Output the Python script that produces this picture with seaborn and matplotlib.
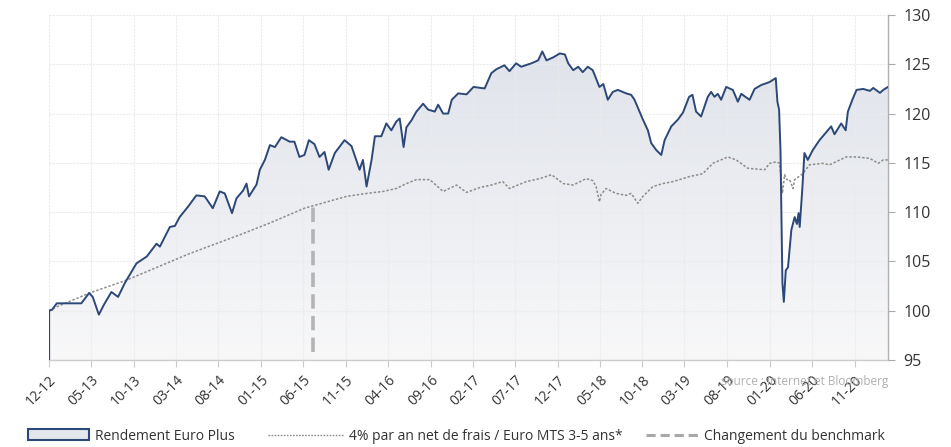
import numpy as np
import pandas as pd
import matplotlib
matplotlib.use("Agg")
import matplotlib.pyplot as plt
import matplotlib.dates as mdates
from matplotlib.colors import LinearSegmentedColormap
from matplotlib.patches import Patch
from matplotlib.lines import Line2D
import seaborn as sns

# ---------------- data ----------------
euro_dates = [
    "2012-12-01", "2012-12-12", "2012-12-29", "2013-03-27", "2013-04-24", "2013-05-07",
    "2013-05-29", "2013-06-16", "2013-07-13", "2013-08-06", "2013-08-30", "2013-10-11",
    "2013-11-17", "2013-12-22", "2014-01-03", "2014-02-08", "2014-02-26", "2014-03-15",
    "2014-04-14", "2014-05-14", "2014-06-13", "2014-07-12", "2014-08-06", "2014-08-24",
    "2014-09-19", "2014-10-05", "2014-10-29", "2014-11-10", "2014-11-19", "2014-12-16",
    "2014-12-28", "2015-01-15", "2015-02-02", "2015-02-20", "2015-03-15", "2015-04-14",
    "2015-05-01", "2015-05-19", "2015-06-06", "2015-06-22", "2015-07-12", "2015-07-30",
    "2015-08-17", "2015-09-01", "2015-09-23", "2015-10-28", "2015-11-22", "2015-12-21",
    "2016-01-02", "2016-01-15", "2016-02-02", "2016-02-14", "2016-03-08", "2016-03-26",
    "2016-04-13", "2016-05-01", "2016-05-13", "2016-05-19", "2016-05-27", "2016-06-06",
    "2016-06-24", "2016-07-12", "2016-08-05", "2016-08-23", "2016-09-16", "2016-09-28",
    "2016-10-16", "2016-11-03", "2016-11-16", "2016-12-09", "2017-01-08", "2017-02-02",
    "2017-03-14", "2017-04-07", "2017-04-25", "2017-05-24", "2017-06-11", "2017-07-05",
    "2017-07-23", "2017-08-29", "2017-09-22", "2017-10-07", "2017-10-22", "2017-11-15",
    "2017-12-09", "2017-12-27", "2018-01-08", "2018-01-26", "2018-02-13", "2018-03-01",
    "2018-03-19", "2018-04-06", "2018-04-30", "2018-05-14", "2018-05-30", "2018-06-17",
    "2018-07-05", "2018-08-04", "2018-08-22", "2018-09-03", "2018-09-21", "2018-10-03",
    "2018-10-21", "2018-11-02", "2018-11-20", "2018-12-08", "2018-12-20", "2019-01-13",
    "2019-02-06", "2019-02-24", "2019-03-18", "2019-03-30", "2019-04-12", "2019-04-30",
    "2019-05-24", "2019-06-05", "2019-06-17", "2019-06-29", "2019-07-11", "2019-07-29",
    "2019-08-22", "2019-09-09", "2019-09-21", "2019-10-21", "2019-11-08", "2019-12-02",
    "2020-01-01", "2020-01-23", "2020-01-29", "2020-02-04", "2020-02-09", "2020-02-16",
    "2020-02-21", "2020-02-28", "2020-03-07", "2020-03-19", "2020-03-31", "2020-04-08",
    "2020-04-14", "2020-04-18", "2020-04-27", "2020-05-05", "2020-05-17", "2020-06-04",
    "2020-06-28", "2020-07-22", "2020-08-09", "2020-08-21", "2020-09-14", "2020-09-30",
    "2020-10-08", "2020-10-24", "2020-11-08", "2020-12-02", "2020-12-26", "2021-01-07",
    "2021-01-31", "2021-02-12", "2021-03-01",
]
euro_values = [
    100.0, 100.1, 100.75, 100.75, 101.8, 101.4,
    99.6, 100.6, 101.9, 101.4, 102.8, 104.8,
    105.5, 106.8, 106.5, 108.5, 108.6, 109.5,
    110.55, 111.7, 111.6, 110.4, 112.1, 111.9,
    109.9, 111.4, 112.2, 112.9, 111.6, 112.8,
    114.3, 115.3, 116.8, 116.6, 117.6, 117.15,
    117.15, 115.6, 115.8, 117.3, 116.9, 115.6,
    116.1, 114.3, 116.0, 117.3, 116.7, 114.3,
    115.3, 112.6, 115.3, 117.7, 117.7, 119.0,
    118.3, 119.2, 119.5, 118.3, 116.6, 118.6,
    119.3, 120.2, 121.0, 120.4, 120.2, 120.9,
    120.0, 120.0, 121.4, 122.05, 121.95, 122.7,
    122.55, 124.1, 124.5, 124.9, 124.3, 125.1,
    124.75, 125.1, 125.4, 126.3, 125.4, 125.7,
    126.1, 126.0, 125.1, 124.4, 124.75, 124.2,
    124.75, 124.4, 122.7, 123.0, 121.4, 122.2,
    122.4, 122.05, 121.9, 121.4, 120.2, 119.4,
    118.3, 117.0, 116.3, 115.8, 117.3, 118.7,
    119.4, 120.1, 121.7, 121.9, 120.2, 119.7,
    121.7, 122.2, 121.7, 122.0, 121.4, 122.7,
    122.4, 121.2, 122.0, 121.4, 122.5, 122.9,
    123.2, 123.6, 121.2, 120.4, 116.3, 102.8,
    100.9, 104.1, 104.4, 108.2, 109.5, 108.8,
    109.9, 108.5, 112.2, 116.0, 115.3, 116.3,
    117.3, 118.1, 118.7, 117.9, 119.0, 118.3,
    120.2, 121.4, 122.4, 122.5, 122.3, 122.6,
    122.1, 122.4, 122.7,
]

bench_dates = [
    "2012-12-01", "2012-12-29", "2013-04-26", "2013-09-05", "2014-04-20", "2014-10-17",
    "2015-02-02", "2015-06-06", "2015-11-04", "2016-01-15", "2016-03-14", "2016-05-01",
    "2016-06-06", "2016-07-12", "2016-08-29", "2016-10-16", "2016-12-03", "2017-01-08",
    "2017-02-25", "2017-04-07", "2017-05-18", "2017-06-11", "2017-08-11", "2017-09-28",
    "2017-11-09", "2017-12-21", "2018-01-26", "2018-03-13", "2018-04-06", "2018-04-18",
    "2018-04-30", "2018-05-06", "2018-05-24", "2018-06-29", "2018-08-04", "2018-08-22",
    "2018-09-15", "2018-10-03", "2018-11-08", "2018-12-14", "2019-01-19", "2019-02-24",
    "2019-03-18", "2019-05-06", "2019-06-11", "2019-08-04", "2019-09-03", "2019-10-15",
    "2019-12-14", "2020-01-01", "2020-01-25", "2020-02-06", "2020-02-16", "2020-02-24",
    "2020-03-03", "2020-03-13", "2020-03-25", "2020-03-31", "2020-04-29", "2020-05-23",
    "2020-07-10", "2020-08-03", "2020-10-02", "2020-11-08", "2020-12-26", "2021-01-25",
    "2021-02-12", "2021-03-01",
]
bench_values = [
    100.0, 100.4, 101.8, 103.1, 105.8, 107.7,
    108.9, 110.4, 111.6, 111.9, 112.1, 112.4,
    112.9, 113.3, 113.3, 112.1, 112.75, 112.0,
    112.5, 112.75, 113.1, 112.4, 113.1, 113.4,
    113.8, 112.9, 112.75, 113.4, 113.2, 112.6,
    111.05, 111.8, 112.4, 111.9, 111.7, 111.9,
    110.9, 111.6, 112.6, 112.9, 113.1, 113.4,
    113.6, 113.9, 114.95, 115.6, 115.3, 114.45,
    114.3, 114.95, 115.1, 114.95, 111.9, 113.8,
    113.3, 113.3, 112.4, 113.3, 113.9, 114.8,
    114.95, 114.8, 115.6, 115.6, 115.45, 114.95,
    115.3, 115.3,
]

change_date = "2015-07-05"
change_range = [95.8, 110.6]

tick_dates = pd.date_range("2012-12-01", "2020-11-01", freq="5MS")
tick_labels = [d.strftime("%m-%y") for d in tick_dates]
y_ticks = [95, 100, 105, 110, 115, 120, 125, 130]

series_names = ["Rendement Euro Plus",
                "4% par an net de frais / Euro MTS 3-5 ans*",
                "Changement du benchmark"]
source_text = "source : internet et Bloomberg"

# ---------------- style ----------------
sns.set_theme(style="white")
plt.rcParams["font.family"] = ["Open Sans", "DejaVu Sans"]

NAVY = "#2c4877"
GREY_DOT = "#8c8c8c"
GREY_DASH = "#b4b4b4"

df_e = pd.DataFrame({"date": pd.to_datetime(euro_dates), "value": euro_values})
df_b = pd.DataFrame({"date": pd.to_datetime(bench_dates), "value": bench_values})

fig = plt.figure(figsize=(9.51, 4.47), dpi=100)
ax = fig.add_axes([49 / 951, 1 - 360 / 447, (888 - 49) / 951, (360 - 15) / 447])

ymin, ymax = 95, 130
xmin = mdates.date2num(pd.Timestamp("2012-12-01"))
xmax = mdates.date2num(pd.Timestamp("2021-03-01"))

# gradient fill under Euro Plus
xnum = mdates.date2num(df_e["date"])
poly = ax.fill_between(xnum, df_e["value"], ymin, facecolor="none", edgecolor="none")
cmap = LinearSegmentedColormap.from_list("g", ["#f8f8f9", "#dde1e9"])
grad = np.linspace(0, 1, 256).reshape(-1, 1)
im = ax.imshow(grad, extent=[xmin, xmax, ymin, ymax], origin="lower",
               aspect="auto", cmap=cmap, zorder=0.5, interpolation="bicubic")
im.set_clip_path(poly.get_paths()[0], transform=ax.transData)

# lines
sns.lineplot(data=df_b, x="date", y="value", ax=ax, color=GREY_DOT, lw=1.1,
             linestyle=(0, (1.6, 1.2)), zorder=3)
sns.lineplot(data=df_e, x="date", y="value", ax=ax, color=NAVY, lw=1.4, zorder=4)
ax.vlines(df_e["date"].iloc[0], ymin, df_e["value"].iloc[0], color=NAVY, lw=1.6, zorder=4)
ax.vlines(pd.Timestamp(change_date), change_range[0], change_range[1], color=GREY_DASH,
          lw=2.6, linestyles=(0, (4, 2)), zorder=3)

# axes
ax.set_xlim(xmin, xmax)
ax.set_ylim(ymin, ymax)
ax.set_xlabel("")
ax.set_ylabel("")
ax.set_xticks(mdates.date2num(tick_dates))
ax.set_xticklabels(tick_labels, rotation=45, ha="right", va="top",
                   rotation_mode="anchor", fontsize=10, color="#333333")
ax.set_yticks(y_ticks)
ax.set_yticklabels([str(v) for v in y_ticks], fontsize=11.5, color="#333333")
ax.yaxis.tick_right()
ax.tick_params(axis="y", which="both", direction="out", length=5, width=0.8,
               color="#aaaaaa", pad=6, left=False, right=True)
ax.tick_params(axis="x", which="both", direction="out", length=5, width=0.8,
               color="#cccccc", pad=4, bottom=True)

for side in ["left", "top"]:
    ax.spines[side].set_visible(False)
ax.spines["right"].set_color("#b0b0b0")
ax.spines["right"].set_linewidth(1.0)
ax.spines["bottom"].set_color("#cccccc")
ax.spines["bottom"].set_linewidth(1.0)

ax.set_axisbelow(False)
ax.grid(True, which="major", axis="both", color="#ebebeb", lw=0.8, linestyle=(0, (2, 1)))
for gl in ax.get_xgridlines() + ax.get_ygridlines():
    gl.set_zorder(1)

# legend (three separate pieces)
leg_kw = dict(frameon=False, fontsize=10, labelcolor="#333333", handletextpad=0.4,
              loc="center left", borderaxespad=0, borderpad=0)
h1 = Patch(facecolor="#e4e7ec", edgecolor=NAVY, lw=1.5)
l1 = fig.legend([h1], [series_names[0]], bbox_to_anchor=(28 / 951, 11 / 447),
                handlelength=4.4, handleheight=0.8, **leg_kw)
h2 = Line2D([], [], color=GREY_DOT, lw=1.0, linestyle=(0, (1.2, 1.0)))
l2 = fig.legend([h2], [series_names[1]], bbox_to_anchor=(268 / 951, 11 / 447),
                handlelength=5.4, **leg_kw)
h3 = Line2D([], [], color="#a8a8a8", lw=2.2, linestyle=(0, (3, 1.6)))
l3 = fig.legend([h3], [series_names[2]], bbox_to_anchor=(646 / 951, 11 / 447),
                handlelength=3.8, **leg_kw)

fig.text(888 / 951, 1 - 382 / 447, source_text, ha="right", va="center",
         fontsize=8.5, color="#b0b0b0")

fig.savefig("out.png", dpi=100)
